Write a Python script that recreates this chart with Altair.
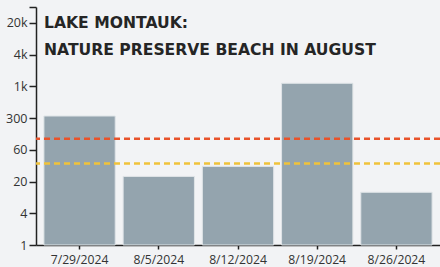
import altair as alt
import pandas as pd

dates = ["7/29/2024", "8/5/2024", "8/12/2024", "8/19/2024", "8/26/2024"]
values = [280, 20, 31, 1170, 10]

threshold_values = [104, 35]
threshold_names = ["Single sample", "Geometric mean"]
threshold_colors = ["#e8532b", "#f0c23a"]

tick_values = [1, 4, 16, 64, 256, 1024, 4096, 16384, 32768]
tick_labels = ["1", "4", "20", "60", "300", "1k", "4k", "20k", ""]
y_domain = [1, 32768]

title_lines = ["LAKE MONTAUK:", "NATURE PRESERVE BEACH IN AUGUST"]

bars_df = pd.DataFrame({"date": dates, "value": values})
thr_df = pd.DataFrame({"value": threshold_values, "name": threshold_names})
title_df = pd.DataFrame({"t": ["\n".join(title_lines)]})

label_expr = ""
for v, l in zip(tick_values, tick_labels):
    label_expr += f"datum.value == {v} ? '{l}' : "
label_expr += "''"

FONT = "Open Sans"

yscale = alt.Scale(type="log", base=4, domain=y_domain, nice=False)

bars = alt.Chart(bars_df).mark_bar(
    color="#94a4ae", stroke="#dfe4e7", strokeWidth=1
).encode(
    x=alt.X("date:N", sort=dates, title=None,
            scale=alt.Scale(paddingInner=0.1, paddingOuter=0.1),
            axis=alt.Axis(labelAngle=0, labelFont=FONT, labelFontSize=12.2,
                          labelColor="#333", domainColor="#222", domainWidth=1.5,
                          tickColor="#222", tickWidth=1.5, tickSize=4, labelPadding=4)),
    y=alt.Y("value:Q", scale=yscale, title=None,
            axis=alt.Axis(values=tick_values, labelExpr=label_expr, labelFont=FONT,
                          labelFontSize=12.5, labelColor="#333", domainColor="#222",
                          domainWidth=1.5, tickColor="#222", tickWidth=1.5, tickSize=7,
                          labelPadding=2, grid=False, labelOverlap=False)),
    y2=alt.datum(1),
)

rules = alt.Chart(thr_df).mark_rule(strokeWidth=2.5, strokeDash=[6, 4]).encode(
    y=alt.Y("value:Q", scale=yscale),
    color=alt.Color("name:N", scale=alt.Scale(domain=threshold_names, range=threshold_colors),
                    legend=None),
)

title = alt.Chart(title_df).mark_text(
    align="left", baseline="top", font="DejaVu Sans", fontSize=15.6, fontWeight="bold",
    color="#252525", lineBreak="\n", lineHeight=27.5
).encode(
    x=alt.value(8), y=alt.value(8.5), text="t:N"
)

chart = alt.layer(bars, rules, title).properties(
    width=404, height=238,
    autosize=alt.AutoSizeParams(type="none"),
    padding={"left": 36, "top": 7, "right": 0, "bottom": 22},
    background="#f2f3f5",
).configure_view(stroke=None)

chart.save("out.html", embed_options={"renderer": "svg", "actions": False})
